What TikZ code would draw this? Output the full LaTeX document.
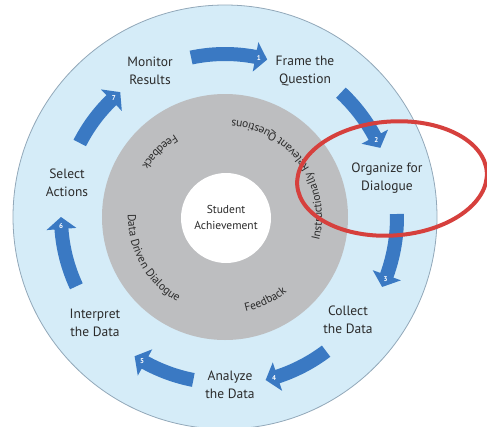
\documentclass[tikz,border=0pt]{standalone}
\usepackage{fontspec}
\setmainfont{PT Sans}
\usetikzlibrary{decorations.text}
\definecolor{ringblue}{HTML}{D5ECF8}
\definecolor{ringedge}{HTML}{92A8B9}
\definecolor{ringgray}{HTML}{BDBEC0}
\definecolor{arrowblue}{HTML}{3A79C3}
\definecolor{markred}{HTML}{D6403D}
\definecolor{txt}{HTML}{2B2B2B}
\newcommand\cyclearrow[5]{%
  \pgfmathsetmacro\cyah{#2+4.2}%
  \fill[arrowblue] ({#1}:{#3+7}) arc[start angle={#1},end angle=\cyah,radius={#3+7}]
     -- (\cyah:{#3+15}) -- ({#2}:{#3}) -- (\cyah:{#3-15}) -- (\cyah:{#3-7})
     arc[start angle=\cyah,end angle={#1},radius={#3-7}] -- cycle;
  \node[numlbl] (#5) at ({#2+3}:{#3}) {#4};
}
\newcommand\ringtext[4]{% #1 start, #2 end, #3 radius, #4 text
  \path[decorate,decoration={text along path,text align=center,text color=txt,
     text={|\fontsize{11.5}{12}\selectfont|#4}}]
     ({#1}:{#3}) arc[start angle={#1},end angle={#2},radius={#3}];
}
\begin{document}
\begin{tikzpicture}[x=1pt,y=1pt,
  lbl/.style={align=center,text=txt,font=\fontsize{13.5}{18.5}\selectfont,inner sep=0pt},
  numlbl/.style={text=white,font=\fontsize{7}{8}\selectfont\bfseries,inner sep=0pt}]
\useasboundingbox (-225,-209) rectangle (262,217);
\clip (-225,-209) rectangle (262,217);
% rings
\fill[ringblue,draw=ringedge,line width=0.8pt] (0,0) circle[radius=212];
\fill[ringgray] (0,0) circle[radius=123];
\fill[white] (1,-1) circle[radius=45];
% cycle arrows
\cyclearrow{102}{75}{163}{1}{n1}
\cyclearrow{47}{24}{170}{2}{n2}
\cyclearrow{1}{-24}{172}{3}{n3}
\cyclearrow{-53}{-76}{168}{4}{n4}
\cyclearrow{-101}{-123}{166}{5}{n5}
\cyclearrow{205}{180}{164}{6}{n6}
\cyclearrow{153}{130}{163}{7}{n7}
% outer labels
\node[lbl] (monitor) at (-75,146) {Monitor\\Results};
\node[lbl] (frame) at (80,146) {Frame the\\Question};
\node[lbl] (organize) at (162,39) {Organize for\\Dialogue};
\node[lbl] (collect) at (123,-103) {Collect\\the Data};
\node[lbl] (analyze) at (5,-168) {Analyze\\the Data};
\node[lbl] (interpret) at (-130,-106) {Interpret\\the Data};
\node[lbl] (select) at (-158,34) {Select\\Actions};
% centre
\node[align=center,text=txt,font=\fontsize{11.5}{16}\selectfont,inner sep=0pt] (student) at (1,0) {Student\\Achievement};
% ring texts
\ringtext{-30}{102}{97}{Instructionally Relevant Questions}
\ringtext{115}{155}{97}{Feedback}
\ringtext{170}{249}{97}{Data Driven Dialogue}
\ringtext{-84}{-44}{97}{Feedback}
% highlight
\draw[markred,line width=4pt,rotate around={4:(167,38.5)}] (167,38.5) ellipse[x radius=95,y radius=57];
\end{tikzpicture}
\end{document}
